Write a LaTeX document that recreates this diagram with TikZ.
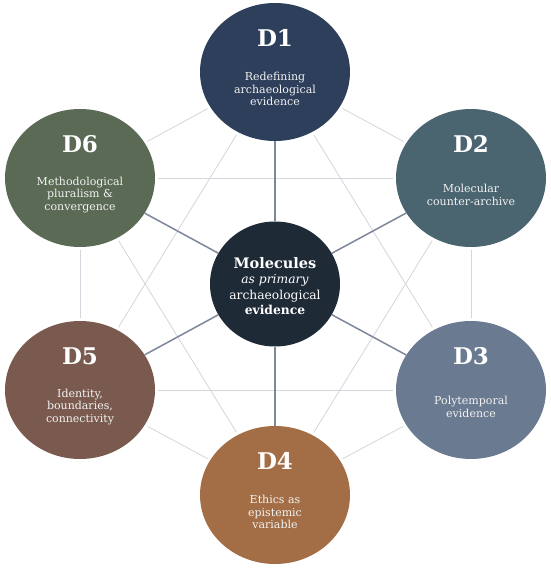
\documentclass[tikz,border=0pt]{standalone}
\usepackage{fontspec}
\setmainfont{DejaVu Serif}
\usetikzlibrary{shapes.geometric}
\definecolor{cD1}{HTML}{2D3F5B}
\definecolor{cD2}{HTML}{4A6470}
\definecolor{cD3}{HTML}{6A7A90}
\definecolor{cD4}{HTML}{A36E46}
\definecolor{cD5}{HTML}{7A5A4F}
\definecolor{cD6}{HTML}{5A6A55}
\definecolor{cCen}{HTML}{1F2A37}
\definecolor{spokec}{HTML}{7C8799}
\definecolor{webc}{HTML}{D3D6DC}
\definecolor{txtc}{HTML}{F2F2F2}
\tikzset{
  outer/.style={ellipse, minimum width=150pt, minimum height=138pt, inner sep=0pt, draw=none},
  centre/.style={ellipse, minimum width=130pt, minimum height=125pt, inner sep=0pt, fill=cCen, draw=none},
  dlabel/.style={text=white, font=\fontsize{23}{25}\selectfont\bfseries, inner sep=0pt},
  dtext/.style={text=txtc, font=\fontsize{11}{12.3}\selectfont, align=center, inner sep=0pt},
  ctext/.style={text=white, font=\fontsize{12.3}{15.5}\selectfont, align=center, inner sep=0pt},
  web/.style={draw=webc, line width=0.8pt, shorten <=3pt, shorten >=3pt},
  spoke/.style={draw=spokec, line width=1.5pt}
}
\begin{document}
\begin{tikzpicture}[x=1pt,y=1pt]
\useasboundingbox (0,0) rectangle (550,568);
\fill[white] (0,0) rectangle (550,568);
% node positions
\coordinate (p0) at (275,284);
\coordinate (p1) at (275,496);
\coordinate (p2) at (471,390);
\coordinate (p3) at (471,178);
\coordinate (p4) at (275,73);
\coordinate (p5) at (80,178);
\coordinate (p6) at (80,390);
% invisible nodes for line anchoring
\node[outer] (d1) at (p1) {};
\node[outer] (d2) at (p2) {};
\node[outer] (d3) at (p3) {};
\node[outer] (d4) at (p4) {};
\node[outer] (d5) at (p5) {};
\node[outer] (d6) at (p6) {};
\node[centre, fill=none] (c) at (p0) {};
% web lines
\draw[web] (d1) -- (d2);
\draw[web] (d2) -- (d3);
\draw[web] (d3) -- (d4);
\draw[web] (d4) -- (d5);
\draw[web] (d5) -- (d6);
\draw[web] (d6) -- (d1);
\draw[web] (d1) -- (d3);
\draw[web] (d1) -- (d5);
\draw[web] (d2) -- (d4);
\draw[web] (d2) -- (d6);
\draw[web] (d3) -- (d5);
\draw[web] (d4) -- (d6);
% spokes
\foreach \n in {d1,d2,d3,d4,d5,d6} {\draw[spoke] (c) -- (\n);}
% filled circles
\node[outer, fill=cD1] at (p1) {};
\node[outer, fill=cD2] at (p2) {};
\node[outer, fill=cD3] at (p3) {};
\node[outer, fill=cD4] at (p4) {};
\node[outer, fill=cD5] at (p5) {};
\node[outer, fill=cD6] at (p6) {};
\node[centre] (cfill) at (p0) {};
% labels
\node[dlabel] (l1) at ([yshift=34pt]d1.center) {D1};
\node[dtext] (t1) at ([yshift=-17pt]d1.center) {Redefining\\archaeological\\evidence};
\node[dlabel] (l2) at ([yshift=34pt]d2.center) {D2};
\node[dtext] (t2) at ([yshift=-17pt]d2.center) {Molecular\\counter-archive};
\node[dlabel] (l3) at ([yshift=34pt]d3.center) {D3};
\node[dtext] (t3) at ([yshift=-17pt]d3.center) {Polytemporal\\evidence};
\node[dlabel] (l4) at ([yshift=34pt]d4.center) {D4};
\node[dtext] (t4) at ([yshift=-17pt]d4.center) {Ethics as\\epistemic\\variable};
\node[dlabel] (l5) at ([yshift=34pt]d5.center) {D5};
\node[dtext] (t5) at ([yshift=-17pt]d5.center) {Identity,\\boundaries,\\connectivity};
\node[dlabel] (l6) at ([yshift=34pt]d6.center) {D6};
\node[dtext] (t6) at ([yshift=-17pt]d6.center) {Methodological\\pluralism \&\\convergence};
\node[ctext] (ct) at ([yshift=-2pt]c.center) {{\fontsize{14.5}{15.5}\selectfont\bfseries Molecules}\\\textit{as primary}\\archaeological\\\textbf{evidence}};
\end{tikzpicture}
\end{document}
